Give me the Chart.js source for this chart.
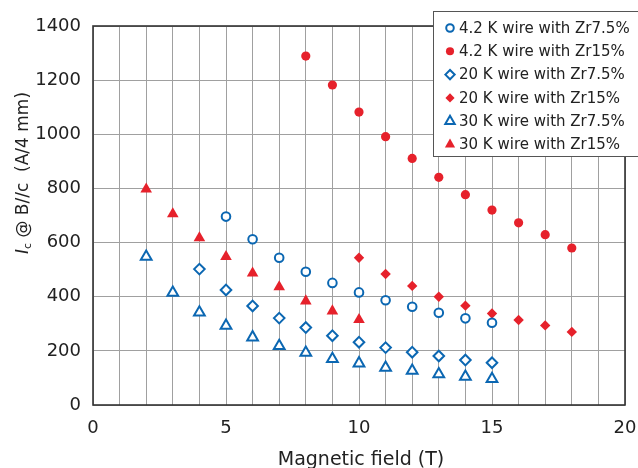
<!DOCTYPE html>
<html>
<head>
<meta charset="utf-8">
<script src="https://cdn.jsdelivr.net/npm/chart.js@4/dist/chart.umd.min.js"></script>
<style>
  html, body { margin: 0; padding: 0; background: #fff; }
  #wrap { width: 638px; height: 468px; }
</style>
</head>
<body>
<div id="wrap"><canvas id="chart" width="638" height="468"></canvas></div>
<script>
const BLUE = '#0b67b2';
const RED = '#e6212b';

// magnetic field (T) and Ic (A/4 mm) per series
const field42Zr75 = [5, 6, 7, 8, 9, 10, 11, 12, 13, 14, 15];
const ic42Zr75 = [696, 612, 544, 492, 451, 416, 387, 363, 341, 320, 304];
const field42Zr15 = [8, 9, 10, 11, 12, 13, 14, 15, 16, 17, 18];
const ic42Zr15 = [1289, 1182, 1082, 991, 911, 841, 777, 720, 673, 629, 580];
const field20Zr75 = [4, 5, 6, 7, 8, 9, 10, 11, 12, 13, 14, 15];
const ic20Zr75 = [502, 425, 366, 321, 286, 256, 232, 212, 195, 181, 166, 156];
const field20Zr15 = [10, 11, 12, 13, 14, 15, 16, 17, 18];
const ic20Zr15 = [544, 484, 440, 400, 367, 338, 314, 294, 270];
const field30Zr75 = [2, 3, 4, 5, 6, 7, 8, 9, 10, 11, 12, 13, 14, 15];
const ic30Zr75 = [548, 415, 342, 293, 250, 218, 193, 170, 154, 138, 127, 114, 105, 96];
const field30Zr15 = [2, 3, 4, 5, 6, 7, 8, 9, 10];
const ic30Zr15 = [797, 706, 617, 548, 487, 436, 384, 347, 315];

const seriesLabels = [
  '4.2 K wire with Zr7.5%',
  '4.2 K wire with Zr15%',
  '20 K wire with Zr7.5%',
  '20 K wire with Zr15%',
  '30 K wire with Zr7.5%',
  '30 K wire with Zr15%',
];

const toPoints = (xs, ys) => xs.map((x, i) => ({ x, y: ys[i] }));

const openSet = (label, xs, ys, style, radius) => ({
  label,
  data: toPoints(xs, ys),
  pointStyle: style,
  pointRadius: radius,
  pointBorderWidth: 2,
  pointBorderColor: BLUE,
  pointBackgroundColor: '#fff',
  showLine: false,
});

const filledSet = (label, xs, ys, style, radius) => ({
  label,
  data: toPoints(xs, ys),
  pointStyle: style,
  pointRadius: radius,
  pointBorderWidth: 0,
  pointBorderColor: RED,
  pointBackgroundColor: RED,
  showLine: false,
});

// same marker geometry as Chart.js draws it
const drawMarker = (ctx, style, x, y, r, fill, stroke, lw) => {
  ctx.beginPath();
  if (style === 'circle') {
    ctx.arc(x, y, r, 0, Math.PI * 2);
  } else if (style === 'rectRot') {
    ctx.moveTo(x - r, y);
    ctx.lineTo(x, y - r);
    ctx.lineTo(x + r, y);
    ctx.lineTo(x, y + r);
  } else if (style === 'triangle') {
    for (let k = 0; k < 3; k += 1) {
      const a = (k * 2 * Math.PI) / 3;
      const px = x + Math.sin(a) * r;
      const py = y - Math.cos(a) * r;
      if (k === 0) ctx.moveTo(px, py); else ctx.lineTo(px, py);
    }
  }
  ctx.closePath();
  ctx.fillStyle = fill;
  ctx.fill();
  if (lw > 0) {
    ctx.lineWidth = lw;
    ctx.strokeStyle = stroke;
    ctx.stroke();
  }
};

const framePlugin = {
  id: 'frame',
  beforeDatasetsDraw(chart) {
    const { ctx, chartArea: a } = chart;
    ctx.save();
    ctx.strokeStyle = '#333';
    ctx.lineWidth = 1.6;
    ctx.strokeRect(a.left, a.top, a.right - a.left, a.bottom - a.top);
    ctx.restore();
  },
};

const titlesPlugin = {
  id: 'titles',
  afterDraw(chart) {
    const { ctx, chartArea: a } = chart;
    ctx.save();
    ctx.fillStyle = '#222';
    ctx.textBaseline = 'alphabetic';
    ctx.font = '19px "DejaVu Sans"';
    ctx.textAlign = 'center';
    ctx.fillText('Magnetic field (T)', (a.left + a.right) / 2 + 2, 465);

    // y title: italic I, subscript c, rest normal
    ctx.translate(28, 173);
    ctx.rotate(-Math.PI / 2);
    const parts = [
      { t: 'I', f: 'italic 17px "DejaVu Sans"', dy: 0 },
      { t: 'c', f: '11px "DejaVu Sans"', dy: 3 },
      { t: ' @ B//c  (A/4 mm)', f: '17px "DejaVu Sans"', dy: 0 },
    ];
    let total = 0;
    parts.forEach((p) => { ctx.font = p.f; total += ctx.measureText(p.t).width; });
    let cx = -total / 2;
    ctx.textAlign = 'left';
    parts.forEach((p) => {
      ctx.font = p.f;
      ctx.fillText(p.t, cx, p.dy);
      cx += ctx.measureText(p.t).width;
    });
    ctx.restore();
  },
};

const legendPlugin = {
  id: 'boxLegend',
  afterDraw(chart) {
    const { ctx } = chart;
    const left = 433;
    const top = 11;
    const rowH = 23.3;
    ctx.save();
    ctx.fillStyle = '#fff';
    ctx.fillRect(left, top, 220, 146);
    ctx.strokeStyle = '#555';
    ctx.lineWidth = 1;
    ctx.strokeRect(left + 0.5, top + 0.5, 220, 145);
    ctx.font = '15px "DejaVu Sans"';
    ctx.textBaseline = 'middle';
    ctx.textAlign = 'left';
    chart.data.datasets.forEach((ds, i) => {
      const y = top + 17 + i * rowH;
      drawMarker(ctx, ds.pointStyle, 450, y, ds.pointRadius * 0.88,
        ds.pointBackgroundColor, ds.pointBorderColor, ds.pointBorderWidth);
      ctx.fillStyle = '#222';
      ctx.fillText(ds.label, 459, y + 1);
    });
    ctx.restore();
  },
};

Chart.defaults.font.family = '"DejaVu Sans"';
Chart.defaults.font.size = 18;
Chart.defaults.color = '#222';

new Chart(document.getElementById('chart'), {
  type: 'scatter',
  data: {
    datasets: [
      openSet(seriesLabels[0], field42Zr75, ic42Zr75, 'circle', 4.3),
      filledSet(seriesLabels[1], field42Zr15, ic42Zr15, 'circle', 4.6),
      openSet(seriesLabels[2], field20Zr75, ic20Zr75, 'rectRot', 5.3),
      filledSet(seriesLabels[3], field20Zr15, ic20Zr15, 'rectRot', 5.2),
      openSet(seriesLabels[4], field30Zr75, ic30Zr75, 'triangle', 6.2),
      filledSet(seriesLabels[5], field30Zr15, ic30Zr15, 'triangle', 6.7),
    ],
  },
  options: {
    responsive: false,
    animation: false,
    layout: { padding: { top: 26, right: 13, left: 0, bottom: 0 } },
    plugins: {
      legend: { display: false },
      tooltip: { enabled: false },
    },
    scales: {
      x: {
        type: 'linear',
        min: 0,
        max: 20,
        afterFit: (scale) => {
          scale.height = 63;
          scale.paddingLeft = 0;
          scale.paddingRight = 0;
        },
        border: { display: false },
        grid: { color: '#a0a0a0', lineWidth: 1, drawTicks: false },
        ticks: {
          stepSize: 1,
          autoSkip: false,
          maxRotation: 0,
          padding: 13,
          callback: (v) => (v % 5 === 0 ? String(v) : ''),
        },
      },
      y: {
        type: 'linear',
        min: 0,
        max: 1400,
        afterFit: (scale) => {
          scale.width = 93;
          scale.paddingTop = 0;
          scale.paddingBottom = 0;
        },
        border: { display: false },
        grid: { color: '#a0a0a0', lineWidth: 1, drawTicks: false },
        ticks: { stepSize: 200, padding: 12, callback: (v) => String(v) },
      },
    },
  },
  plugins: [framePlugin, titlesPlugin, legendPlugin],
});
</script>
</body>
</html>
